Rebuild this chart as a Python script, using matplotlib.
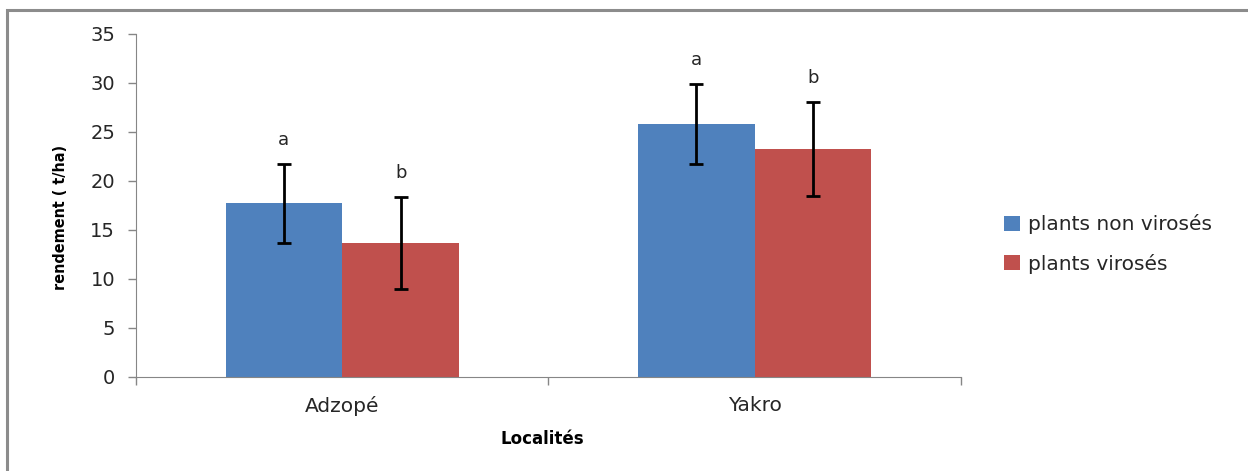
import numpy as np
import matplotlib
import matplotlib.pyplot as plt
from matplotlib.patches import Rectangle

matplotlib.use('Agg')

OUTPUT_PATH = "out.png"

# Yield per locality (t/ha), healthy vs virus-infected plants
localites = ["Adzopé", "Yakro"]
non_viroses = [17.7, 25.8]
viroses = [13.7, 23.3]
err_non_viroses = [4.05, 4.1]
err_viroses = [4.7, 4.8]
lettres_non_viroses = ["a", "a"]
lettres_viroses = ["b", "b"]
y_ticks = [0, 5, 10, 15, 20, 25, 30, 35]

BLUE = "#4F81BD"
RED = "#C0504D"
AXIS_GRAY = "#868686"
TEXT = "#262626"

plt.rcParams['font.family'] = ['DejaVu Sans']

fig = plt.figure(figsize=(12.48, 4.71), dpi=100, facecolor="white")
ax = fig.add_axes([0.109, 0.1996, 0.661, 0.7284])

# outer chart frame (top and left edges only are visible)
fig.patches.append(Rectangle((7 / 1248, -0.05), 1.2, 1 - 10 / 471 + 0.05,
                             transform=fig.transFigure, fill=False,
                             edgecolor="#8c8c8c", linewidth=2.2))

x = np.arange(len(localites))
w = 0.283

ax.bar(x - w / 2, non_viroses, w, color=BLUE, label="plants non virosés", zorder=2)
ax.bar(x + w / 2, viroses, w, color=RED, label="plants virosés", zorder=2)

ekw = dict(fmt="none", ecolor="black", elinewidth=2, capsize=5, capthick=2, zorder=3)
ax.errorbar(x - w / 2, non_viroses, yerr=err_non_viroses, **ekw)
ax.errorbar(x + w / 2, viroses, yerr=err_viroses, **ekw)

# significance letters above the error bars
for xi, v, e, l in zip(x - w / 2, non_viroses, err_non_viroses, lettres_non_viroses):
    ax.text(xi, v + e + 2.4, l, ha="center", va="center", fontsize=13, color=TEXT)
for xi, v, e, l in zip(x + w / 2, viroses, err_viroses, lettres_viroses):
    ax.text(xi, v + e + 2.4, l, ha="center", va="center", fontsize=13, color=TEXT)

ax.set_xlim(-0.5, 1.5)
ax.set_ylim(0, 35)
ax.set_yticks(y_ticks)
ax.set_xticks([-0.5, 0.5, 1.5], minor=False)
ax.set_xticklabels([])
ax.set_xticks(x, minor=True)
ax.set_xticklabels(localites, minor=True)
ax.tick_params(axis="x", which="minor", length=0, pad=14, labelsize=14.5, labelcolor=TEXT)
ax.tick_params(axis="x", which="major", length=6, width=1, color=AXIS_GRAY)
ax.tick_params(axis="y", length=6, width=1, color=AXIS_GRAY, labelsize=14,
               labelcolor=TEXT, pad=9)

for s in ["top", "right"]:
    ax.spines[s].set_visible(False)
for s in ["left", "bottom"]:
    ax.spines[s].set_color(AXIS_GRAY)

ax.set_ylabel("rendement ( t/ha)", fontsize=11.5, fontweight="bold",
              fontstretch="condensed")
ax.yaxis.set_label_coords(-0.082, 0.465)
ax.set_xlabel("Localités", fontsize=12, fontweight="bold")
ax.xaxis.set_label_coords(0.492, -0.155)

leg = fig.legend(loc="center left", bbox_to_anchor=(0.79, 0.482), frameon=False,
                 fontsize=14.5, handlelength=0.8, handleheight=0.8,
                 handletextpad=0.4, labelspacing=0.95)
for t in leg.get_texts():
    t.set_color(TEXT)

plt.savefig(OUTPUT_PATH, dpi=100, facecolor="white")
plt.close()
